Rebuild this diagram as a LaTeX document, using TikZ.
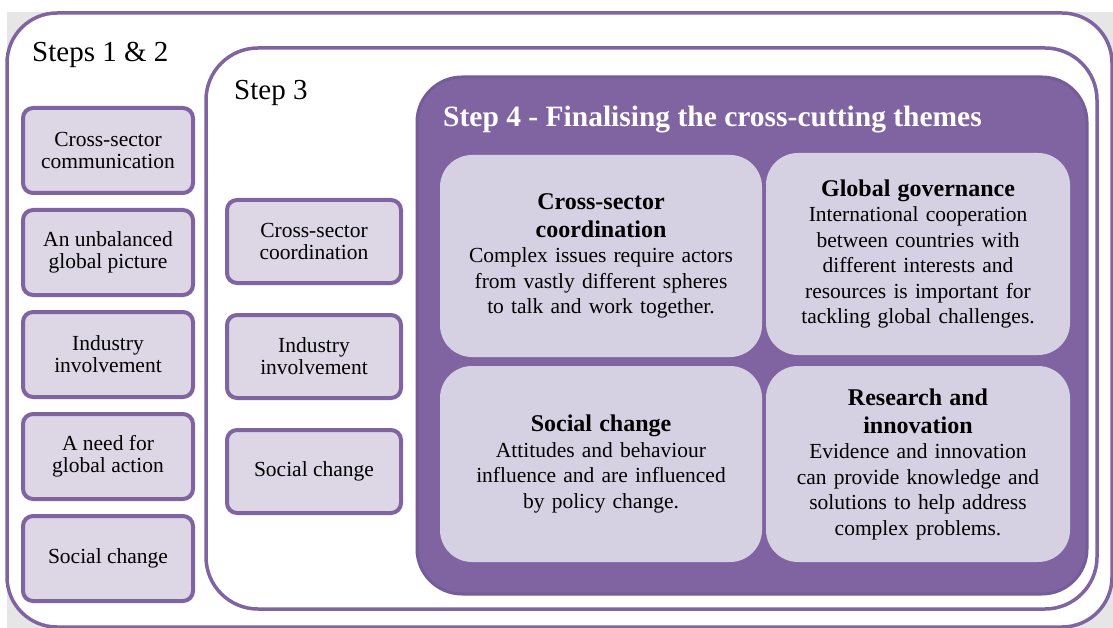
\documentclass[tikz,border=0pt]{standalone}
\usepackage{fontspec}
\setmainfont{Liberation Serif}
\usepackage{xcolor}
\usetikzlibrary{positioning}
\definecolor{Plum}{RGB}{128, 100, 162}
\definecolor{PlumDark}{RGB}{116, 91, 153}
\definecolor{Lilac}{RGB}{220, 214, 229}
\definecolor{LilacPale}{RGB}{214, 209, 226}
\definecolor{Backdrop}{RGB}{230, 230, 230}

\tikzset{
    frame/.style={draw=Plum, line width=3.5pt},
    header/.style={font=\fontsize{29}{33}\selectfont, inner sep=0pt, anchor=base west},
    stepbox/.style={draw=Plum, line width=4pt, fill=Lilac, rounded corners=10pt,
        minimum width=170pt, minimum height=85pt, inner sep=0pt, outer sep=0pt,
        align=center, font=\fontsize{21.5}{22}\selectfont},
    theme/.style={fill=LilacPale, rounded corners=32pt, inner sep=0pt,
        text width=290pt, align=center, font=\fontsize{21.5}{25.5}\selectfont},
}
\newcommand\themetitle[1]{{\fontsize{24}{28}\selectfont\bfseries #1\par}}

\begin{document}
\begin{tikzpicture}[x=1pt,y=-1pt]
    \useasboundingbox (0,0) rectangle (1113,628);
    \clip (0,0) rectangle (1113,628);
    \fill[Backdrop] (7,12) rectangle (1113,628);

    % steps 1 & 2
    \draw[frame, fill=white, rounded corners=50pt] (7,13) rectangle (1112,627);
    \node[header] (steps12) at (32,62) {Steps 1 \& 2};
    \node[stepbox] (comm) at (108,150.5) {Cross-sector\\communication};
    \node[stepbox, below=17pt of comm] (unbal) {An unbalanced\\global picture};
    \node[stepbox, below=17pt of unbal] (indA) {Industry\\involvement};
    \node[stepbox, below=17pt of indA] (need) {A need for\\global action};
    \node[stepbox, below=17pt of need] (socA) {Social change};

    % step 3
    \draw[frame, fill=white, rounded corners=52pt] (206,48) rectangle (1097,609);
    \node[header] (step3) at (234,100) {Step 3};
    \node[stepbox, minimum width=174pt, minimum height=83pt] (coord) at (314,241.5) {Cross-sector\\coordination};
    \node[stepbox, minimum width=174pt, minimum height=83pt, below=32pt of coord] (indB) {Industry\\involvement};
    \node[stepbox, minimum width=174pt, minimum height=83pt, below=32pt of indB] (socB) {Social change};

    % step 4
    \draw[draw=PlumDark, line width=3pt, fill=Plum, rounded corners=45pt] (417,77) rectangle (1087,594);
    \node[header, text=white, font=\fontsize{29.5}{33}\selectfont\bfseries] (step4) at (443,127)
        {Step 4 - Finalising the cross-cutting themes};
    \node[theme, minimum width=322pt, minimum height=202pt] (tcoord) at (601,256)
        {\themetitle{Cross-sector\\coordination}
        Complex issues require actors\\from vastly different spheres\\to talk and work together.};
    \node[theme, minimum width=304pt, minimum height=202pt] (tgov) at (918,254)
        {\themetitle{Global governance}
        International cooperation\\between countries with\\different interests and\\resources is important for\\tackling global challenges.};
    \node[theme, minimum width=322pt, minimum height=196pt] (tsoc) at (601,464)
        {\themetitle{Social change}
        Attitudes and behaviour\\influence and are influenced\\by policy change.};
    \node[theme, minimum width=304pt, minimum height=196pt] (tres) at (918,464)
        {\themetitle{Research and\\innovation}
        Evidence and innovation\\can provide knowledge and\\solutions to help address\\complex problems.};
\end{tikzpicture}
\end{document}
